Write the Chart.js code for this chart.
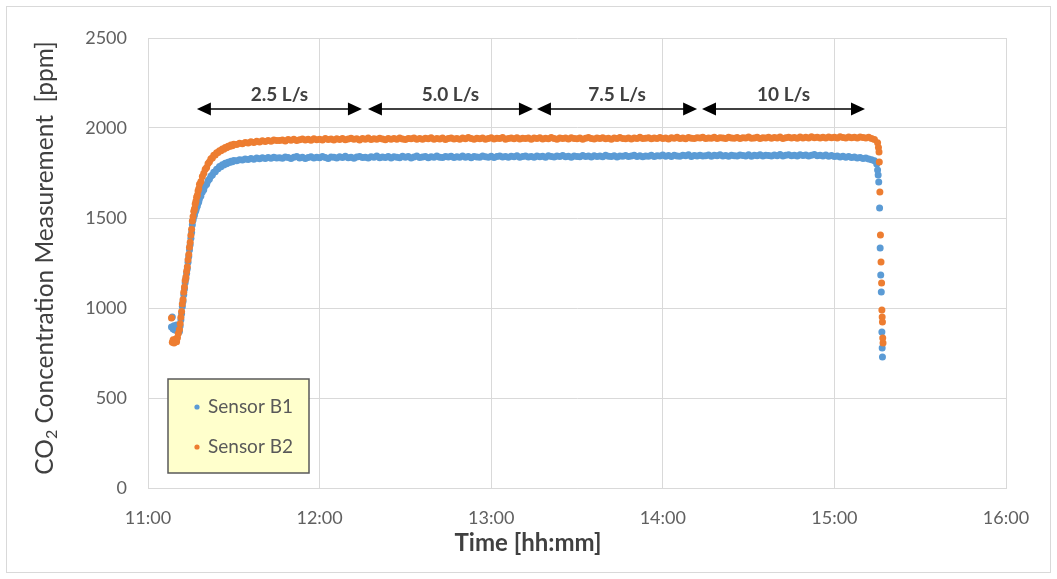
<!DOCTYPE html>
<html><head><meta charset="utf-8">
<script src="https://cdn.jsdelivr.net/npm/chart.js@4.4.1/dist/chart.umd.min.js"></script>
<style>html,body{margin:0;padding:0;background:#fff}canvas{display:block}</style>
</head><body>
<canvas id="c" width="1057" height="579"></canvas>
<script>
// ---- data (time = minutes after 11:00) ----
const xTickLabels = ['11:00','12:00','13:00','14:00','15:00','16:00'];
const yTickLabels = ['0','500','1000','1500','2000','2500'];
const seriesNames = ['Sensor B1','Sensor B2'];
const xTitle = 'Time [hh:mm]';
const yTitleParts = ['CO','2',' Concentration Measurement  [ppm]'];

const sampleTimes = [
 8.2,8.5,8.8,9.1,9.4,9.7,10.0,10.3,10.6,
 11.0,11.25,11.5,11.75,12.0,12.25,12.5,12.75,13.0,13.25,13.5,13.75,14.0,14.25,14.5,14.75,
 15.0,15.25,15.5,15.75,16.0,16.25,16.5,16.75,17.0,17.25,17.5,17.75,18.0,
 18.5,19.0,19.5,20.0,20.5,21.0,21.5,22.0,22.5,23.0,23.5,24.0,24.5,25.0,25.5,26.0,26.5,27.0,27.5,28.0,28.5,29.0,29.5,30.0,
 31,32,33,34,35,36,37,38,39,40,41,42,43,44,45,
 46,47,48,49,50,51,52,53,54,55,
 56,57,58,59,60,61,62,63,64,65,
 66,67,68,69,70,71,72,73,74,75,
 76,77,78,79,80,81,82,83,84,85,
 86,87,88,89,90,91,92,93,94,95,
 96,97,98,99,100,101,102,103,104,105,
 106,107,108,109,110,111,112,113,114,115,
 116,117,118,119,120,121,122,123,124,125,
 126,127,128,129,130,131,132,133,134,135,
 136,137,138,139,140,141,142,143,144,145,
 146,147,148,149,150,151,152,153,154,155,
 156,157,158,159,160,161,162,163,164,165,
 166,167,168,169,170,171,172,173,174,175,
 176,177,178,179,180,181,182,183,184,185,
 186,187,188,189,190,191,192,193,194,195,
 196,197,198,199,200,201,202,203,204,205,
 206,207,208,209,210,211,212,213,214,215,
 216,217,218,219,220,221,222,223,224,225,
 226,227,228,229,230,231,232,233,234,235,
 236,237,238,239,240,241,242,243,244,245,
 246,247,248,249,250,251,252,253,254
];

const b1Values = [
 895,950,884,902,878,890,905,872,868,
 870,900,935,968,1008,1036,1074,1105,1140,1162,1192,1218,1254,1286,1322,1352,
 1388,1420,1462,1488,1506,1517,1534,1543,1559,1566,1582,1590,1607,
 1622,1645,1657,1679,1688,1707,1716,1734,1739,1754,1757,1771,1773,1786,1785,1796,1794,1804,1802,1810,1808,1815,1813,1819,
 1818,1824,1822,1828,1825,1831,1827,1833,1829,1835,1831,1836,1832,1838,1834,
 1835,1832,1839,1836,1830,1838,1841,1834,1837,1831,
 1836,1840,1833,1838,1835,1842,1836,1831,1839,1837,
 1834,1840,1836,1843,1835,1838,1832,1839,1841,1836,
 1838,1833,1840,1837,1844,1835,1839,1836,1842,1834,
 1840,1837,1835,1843,1838,1841,1834,1839,1845,1836,
 1839,1842,1835,1840,1837,1844,1838,1836,1841,1839,
 1843,1836,1840,1838,1845,1837,1841,1835,1842,1839,
 1837,1844,1840,1838,1843,1836,1841,1845,1839,1842,
 1838,1843,1840,1846,1837,1841,1844,1839,1842,1838,
 1845,1840,1843,1838,1846,1841,1839,1844,1842,1847,
 1840,1843,1838,1845,1842,1840,1847,1841,1844,1839,
 1846,1842,1844,1840,1848,1843,1841,1846,1839,1845,
 1843,1847,1841,1844,1849,1842,1846,1840,1845,1843,
 1848,1842,1846,1844,1850,1843,1847,1841,1849,1845,
 1843,1848,1846,1851,1842,1847,1845,1849,1844,1846,
 1850,1843,1848,1846,1852,1845,1847,1843,1849,1846,
 1844,1850,1847,1845,1851,1843,1848,1846,1852,1845,
 1849,1847,1844,1850,1846,1853,1845,1848,1851,1846,
 1849,1844,1852,1847,1850,1845,1848,1853,1846,1849,
 1845,1850,1843,1847,1841,1845,1839,1843,1838,1841,
 1836,1839,1834,1836,1831,1833,1828,1824,1818
];

const b2Values = [
 945,810,824,806,815,828,812,835,858,
 880,912,948,980,1022,1047,1088,1116,1153,1172,1204,1229,1268,1297,1338,1365,
 1404,1437,1483,1508,1538,1552,1578,1593,1615,1626,1650,1663,1687,
 1703,1731,1748,1771,1780,1803,1812,1829,1833,1848,1850,1863,1864,1874,1873,1884,1882,1892,1890,1899,1897,1905,1902,1910,
 1908,1915,1913,1920,1917,1923,1919,1926,1922,1929,1925,1931,1927,1934,1930,
 1930,1934,1928,1936,1932,1938,1931,1935,1939,1933,
 1937,1932,1940,1935,1938,1934,1941,1936,1939,1933,
 1940,1936,1942,1935,1939,1943,1937,1940,1934,1941,
 1938,1944,1936,1940,1937,1943,1939,1935,1942,1938,
 1941,1937,1944,1939,1936,1942,1940,1945,1938,1941,
 1937,1943,1940,1946,1938,1942,1939,1944,1936,1941,
 1945,1939,1942,1938,1944,1940,1947,1941,1937,1943,
 1940,1945,1938,1942,1946,1939,1943,1941,1947,1938,
 1942,1944,1940,1946,1939,1943,1941,1945,1938,1944,
 1941,1946,1939,1943,1940,1947,1942,1938,1945,1941,
 1944,1939,1946,1942,1940,1945,1938,1943,1947,1941,
 1939,1944,1942,1946,1940,1943,1938,1945,1941,1947,
 1942,1940,1945,1939,1944,1942,1948,1941,1943,1946,
 1940,1945,1942,1947,1941,1944,1939,1946,1943,1948,
 1942,1945,1940,1947,1943,1941,1946,1944,1949,1942,
 1945,1943,1948,1941,1946,1944,1942,1949,1945,1943,
 1947,1942,1946,1944,1950,1943,1945,1948,1942,1946,
 1944,1949,1943,1947,1945,1950,1942,1946,1948,1944,
 1947,1943,1950,1945,1948,1944,1951,1946,1949,1945,
 1948,1944,1950,1946,1949,1945,1951,1947,1944,1950,
 1946,1949,1945,1950,1947,1944,1948,1942,1936
];

// end of test (fast decay of readings)
const b1EndTimes  = [254.8,255.1,255.3,255.5,255.8,256.0,256.2,256.4,256.6,256.7,256.8];
const b1EndValues = [1800,1767,1739,1700,1555,1333,1183,1089,867,778,728];
const b2EndTimes  = [255.1,255.4,255.6,255.7,255.9,256.1,256.3,256.5,256.6,256.7,256.8,256.9,257.0];
const b2EndValues = [1918,1892,1867,1811,1644,1405,1255,1139,989,950,922,833,806];

// flow-rate periods (annotation arrows)
const flowLabels = ['2.5 L/s','5.0 L/s','7.5 L/s','10 L/s'];
const flowStarts = [17.1, 76.9, 136.0, 193.7];
const flowEnds   = [74.8, 134.6, 192.0, 250.7];
const flowArrowLevel = 2106;
const flowLabelLevel = 2183;

// ---- build ----
function pts(times, vals){ return times.map((t,i)=>({x:t, y:vals[i]})); }
const b1Data = pts(sampleTimes, b1Values).concat(pts(b1EndTimes, b1EndValues));
const b2Data = pts(sampleTimes, b2Values).concat(pts(b2EndTimes, b2EndValues));

const BLUE = '#5B9BD5', ORANGE = '#ED7D31';
const FONT = 'Lato, "Open Sans", sans-serif';

const bgPlugin = {
  id:'bg',
  beforeDraw(chart){
    const c = chart.ctx; c.save(); c.fillStyle='#fff'; c.fillRect(0,0,chart.width,chart.height);
    c.strokeStyle='#d9d9d9'; c.lineWidth=1; c.strokeRect(6.5,6.5,chart.width-13,chart.height-13);
    c.restore();
  }
};

const arrowPlugin = {
  id:'arrows',
  afterDatasetsDraw(chart){
    const c = chart.ctx, xs = chart.scales.x, ys = chart.scales.y;
    const y = ys.getPixelForValue(flowArrowLevel);
    const ly = ys.getPixelForValue(flowLabelLevel);
    c.save();
    c.strokeStyle='#000'; c.fillStyle='#000'; c.lineWidth=1.5;
    flowLabels.forEach((lab,i)=>{
      const x1 = xs.getPixelForValue(flowStarts[i]);
      const x2 = xs.getPixelForValue(flowEnds[i]);
      const L = 14, H = 6.5;
      c.beginPath(); c.moveTo(x1+L-2,y); c.lineTo(x2-L+2,y); c.stroke();
      c.beginPath(); c.moveTo(x1,y); c.lineTo(x1+L,y-H); c.lineTo(x1+L,y+H); c.closePath(); c.fill();
      c.beginPath(); c.moveTo(x2,y); c.lineTo(x2-L,y-H); c.lineTo(x2-L,y+H); c.closePath(); c.fill();
      c.save();
      c.fillStyle='#404040'; c.font='bold 19px '+FONT; c.textAlign='center'; c.textBaseline='middle';
      c.fillText(lab,(x1+x2)/2,ly);
      c.restore();
    });
    c.restore();
  }
};

const decorPlugin = {
  id:'decor',
  afterDraw(chart){
    const c = chart.ctx;
    c.save();
    // x title
    c.fillStyle='#404040'; c.font='bold 24px '+FONT; c.textAlign='center'; c.textBaseline='middle';
    c.fillText(xTitle, 528, 543);
    // y title (rotated, with subscript)
    c.translate(45, 258); c.rotate(-Math.PI/2);
    const f1 = '24.5px '+FONT, f2 = '16px '+FONT;
    c.font=f1; const w1=c.measureText(yTitleParts[0]).width, w3=c.measureText(yTitleParts[2]).width;
    c.font=f2; const w2=c.measureText(yTitleParts[1]).width;
    let x0 = -(w1+w2+w3)/2;
    c.textAlign='left'; c.textBaseline='middle';
    c.font=f1; c.fillText(yTitleParts[0], x0, 0);
    c.font=f2; c.fillText(yTitleParts[1], x0+w1, 7);
    c.font=f1; c.fillText(yTitleParts[2], x0+w1+w2, 0);
    c.restore();
    // legend box
    c.save();
    c.fillStyle='#FFFFCC'; c.fillRect(168,379,141,94);
    c.strokeStyle='#595959'; c.lineWidth=1.5; c.strokeRect(168,379,141,94);
    const cols=[BLUE,ORANGE], ys=[407,447];
    seriesNames.forEach((n,i)=>{
      c.fillStyle=cols[i]; c.beginPath(); c.arc(197,ys[i],2.6,0,Math.PI*2); c.fill();
      c.fillStyle='#595959'; c.font='19px '+FONT; c.textAlign='left'; c.textBaseline='middle';
      c.fillText(n,208,ys[i]);
    });
    c.restore();
  }
};

new Chart(document.getElementById('c'), {
  type:'scatter',
  data:{ datasets:[
    {label:seriesNames[0], data:b1Data, backgroundColor:BLUE, borderColor:BLUE, pointRadius:3.5, pointBorderWidth:0, order:1},
    {label:seriesNames[1], data:b2Data, backgroundColor:ORANGE, borderColor:ORANGE, pointRadius:3.5, pointBorderWidth:0, order:0}
  ]},
  options:{
    responsive:false, animation:false, devicePixelRatio:1,
    layout:{padding:{left:0, top:38, right:51, bottom:0}},
    plugins:{legend:{display:false}, tooltip:{enabled:false}},
    scales:{
      x:{ type:'linear', min:0, max:300,
          afterFit(s){ s.height = 91; },
          grid:{color:'#d9d9d9', drawTicks:false, lineWidth:1},
          border:{color:'#d9d9d9'},
          ticks:{stepSize:60, padding:19, color:'#606060', font:{family:FONT, size:18},
                 callback:(v)=>xTickLabels[Math.round(v/60)]}
      },
      y:{ min:0, max:2500,
          afterFit(s){ s.width = 148; },
          grid:{color:'#d9d9d9', drawTicks:false, lineWidth:1},
          border:{color:'#d9d9d9'},
          ticks:{stepSize:500, padding:21, color:'#606060', font:{family:FONT, size:18},
                 callback:(v)=>yTickLabels[Math.round(v/500)]}
      }
    }
  },
  plugins:[bgPlugin, arrowPlugin, decorPlugin]
});
</script>
</body></html>
